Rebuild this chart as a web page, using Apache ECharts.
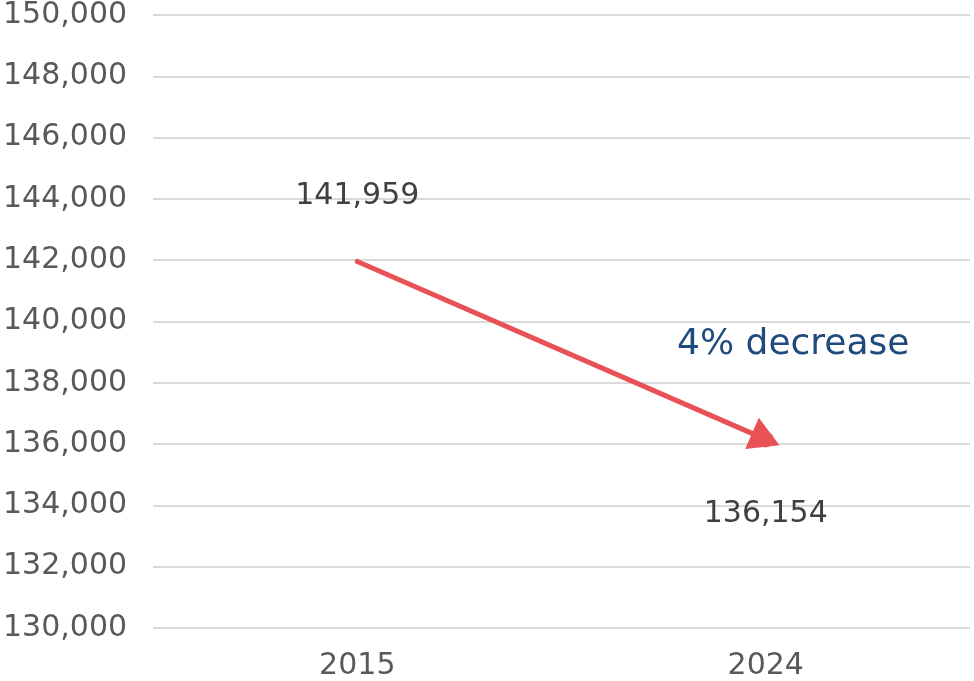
<!DOCTYPE html>
<html><head><meta charset="utf-8">
<script src="https://cdn.jsdelivr.net/npm/echarts@6/dist/echarts.min.js"></script>
<style>html,body{margin:0;padding:0;background:#fff}#c{width:974px;height:681px}</style>
</head><body><div id="c"></div>
<script>
const categories = ['2015', '2024'];
const values = [141959, 136154];
const yMin = 130000, yMax = 150000, yStep = 2000;
const annotation = '4% decrease';

const chart = echarts.init(document.getElementById('c'));
const FONT = 'DejaVu Sans';
chart.setOption({
  animation: false,
  grid: { left: 150, right: 4, top: 15, bottom: 52, containLabel: false },
  xAxis: {
    type: 'category', data: categories, boundaryGap: true,
    axisLine: { show: false }, axisTick: { show: false },
    axisLabel: { color: '#595959', fontFamily: FONT, fontSize: 30, margin: 23 }
  },
  yAxis: {
    type: 'value', min: yMin, max: yMax, interval: yStep,
    axisLine: { show: false }, axisTick: { show: false },
    splitLine: { lineStyle: { color: '#d9d9d9', width: 2 } },
    axisLabel: { color: '#595959', fontFamily: FONT, fontSize: 30, margin: 26,
      formatter: v => v.toLocaleString('en-US') }
  },
  series: [{
    type: 'line',
    data: values.map((v, i) => i === values.length - 1
      ? { value: v, symbol: 'triangle', symbolSize: [34, 30], symbolRotate: -113.5,
          label: { position: 'bottom', distance: 38 } }
      : { value: v, symbol: 'circle', symbolSize: 0, label: { position: 'top', distance: 50 } }),
    showAllSymbol: true,
    lineStyle: { color: '#E85256', width: 5, cap: 'round' },
    itemStyle: { color: '#E85256' },
    label: { show: true, color: '#404040', fontFamily: FONT, fontSize: 30,
      formatter: p => p.value.toLocaleString('en-US') }
  }, {
    type: 'scatter',
    data: values.map((v, i) => i === values.length - 1 ? v : '-'),
    symbol: 'circle', symbolSize: 16,
    itemStyle: { color: '#E85256' },
    silent: true
  }],
  graphic: [{
    type: 'text', left: 677, top: 327,
    style: { text: annotation, fill: '#1F4A7E', font: '36px "DejaVu Sans"' }
  }]
});
</script></body></html>
